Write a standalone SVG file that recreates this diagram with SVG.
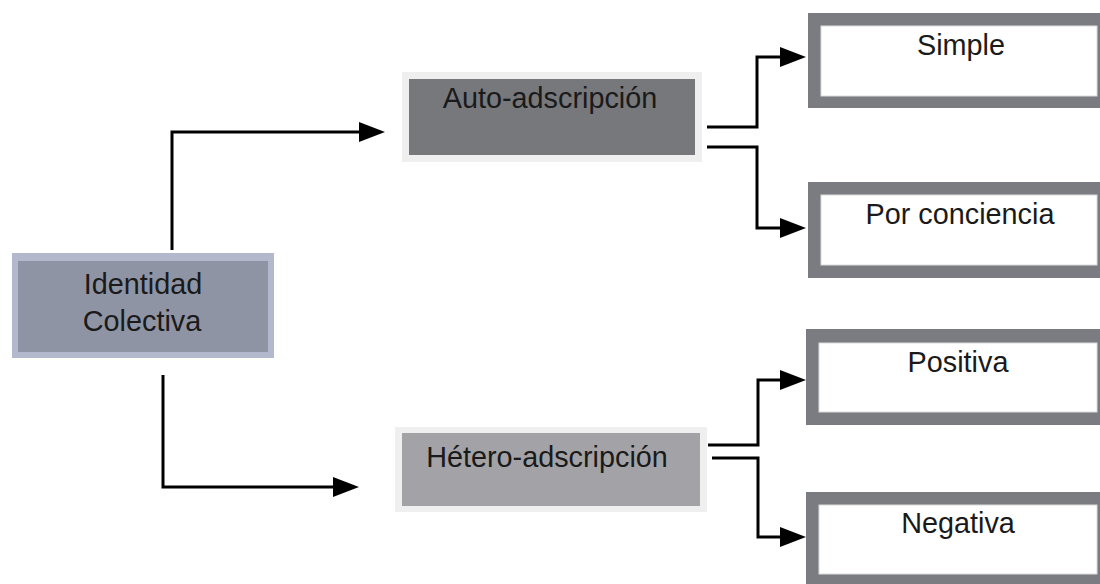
<svg xmlns="http://www.w3.org/2000/svg" width="1100" height="584" viewBox="0 0 1100 584">
  <defs>
    <marker id="arrow" markerUnits="userSpaceOnUse" markerWidth="26" markerHeight="20" refX="0" refY="10" orient="auto">
      <path d="M0,0 L26,10 L0,20 Z" fill="#000"/>
    </marker>
    <style>
      .lbl { font-family: "Liberation Sans", Arial, sans-serif; font-size: 28.8px; fill: #1a1a1a; text-anchor: middle; }
      .conn { fill: none; stroke: #000; stroke-width: 3; marker-end: url(#arrow); }
      .leafOuter { fill: #7b7c81; }
      .leafInner { fill: #ffffff; stroke: #dcdcdc; stroke-width: 1; }
    </style>
  </defs>
  <rect width="1100" height="584" fill="#ffffff"/>

  <g id="connectors">
    <path class="conn" d="M172,250 V132 H359"/>
    <path class="conn" d="M163,375 V487 H333"/>
    <path class="conn" d="M707,127 H757 V57 H780"/>
    <path class="conn" d="M707,147 H757 V228 H780"/>
    <path class="conn" d="M708,445 H758 V380 H780"/>
    <path class="conn" d="M712,458 H758 V537 H780"/>
  </g>

  <g id="identidad">
    <rect x="12" y="253" width="262" height="105" fill="#b3b8cd"/>
    <rect x="18" y="261" width="250" height="91" fill="#8f94a4"/>
    <text class="lbl" x="143" y="294">Identidad</text>
    <text class="lbl" x="142" y="331">Colectiva</text>
  </g>

  <g id="auto">
    <rect x="402" y="72" width="300" height="90" fill="#efefef"/>
    <rect x="409" y="79" width="286" height="76" fill="#77787c"/>
    <text class="lbl" x="550" y="108">Auto-adscripción</text>
  </g>

  <g id="hetero">
    <rect x="395" y="427" width="312" height="85" fill="#efefef"/>
    <rect x="402" y="433" width="298" height="73" fill="#a3a3a7"/>
    <text class="lbl" x="547" y="467">Hétero-adscripción</text>
  </g>

  <g id="simple">
    <rect class="leafOuter" x="808" y="13" width="302" height="95"/>
    <rect class="leafInner" x="821" y="26" width="276" height="70"/>
    <text class="lbl" x="961" y="55">Simple</text>
  </g>

  <g id="conciencia">
    <rect class="leafOuter" x="808" y="182" width="302" height="96"/>
    <rect class="leafInner" x="821" y="195" width="276" height="70"/>
    <text class="lbl" x="960" y="224">Por conciencia</text>
  </g>

  <g id="positiva">
    <rect class="leafOuter" x="806" y="329" width="304" height="96"/>
    <rect class="leafInner" x="819" y="343" width="278" height="69"/>
    <text class="lbl" x="958" y="372">Positiva</text>
  </g>

  <g id="negativa">
    <rect class="leafOuter" x="806" y="492" width="304" height="98"/>
    <rect class="leafInner" x="819" y="505" width="278" height="69"/>
    <text class="lbl" x="958" y="533">Negativa</text>
  </g>
</svg>
